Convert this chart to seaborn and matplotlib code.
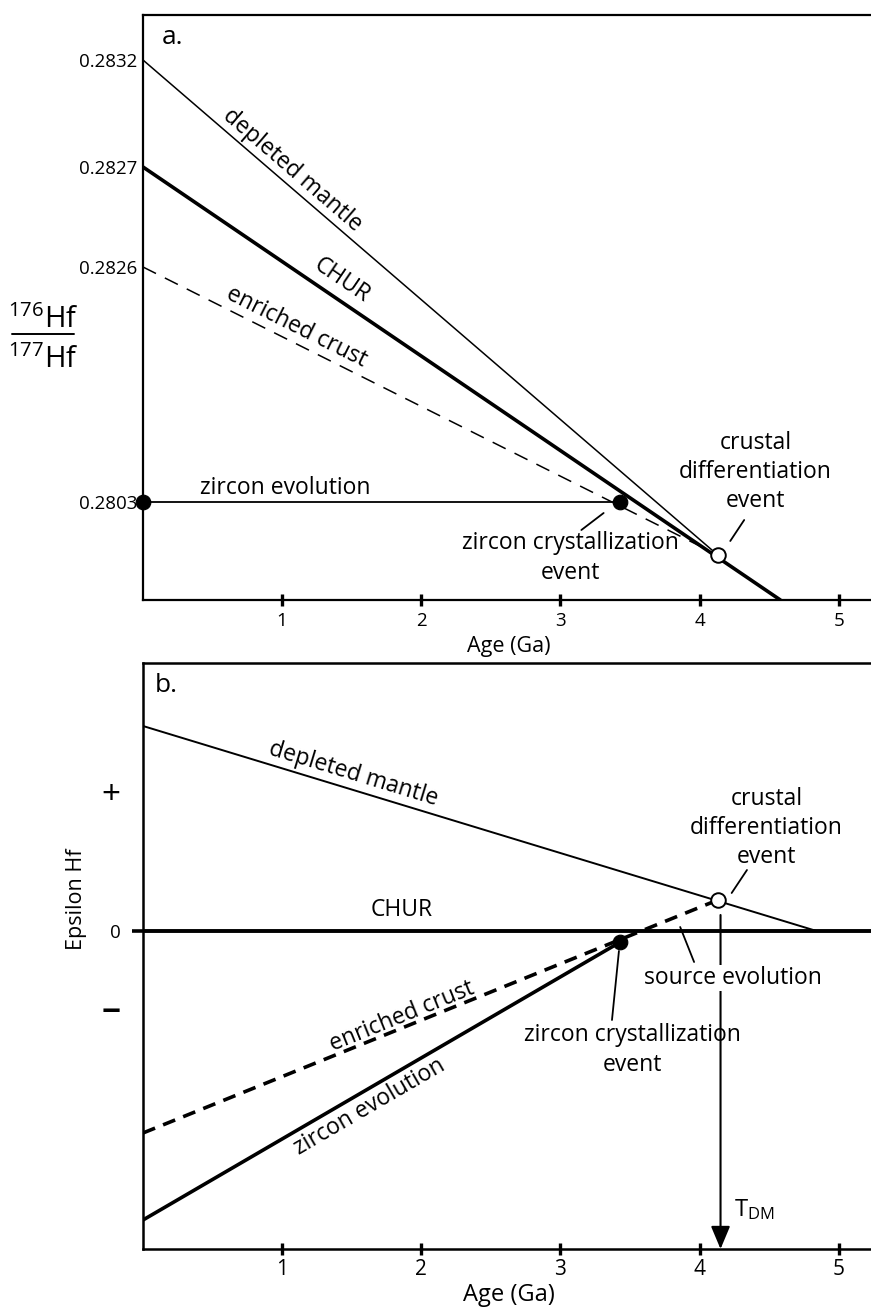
import math
import numpy as np
import pandas as pd
import seaborn as sns
import matplotlib.pyplot as plt
from matplotlib.lines import Line2D

sns.set_style("ticks")
plt.rcParams["font.family"] = ["Open Sans", "DejaVu Sans"]
plt.rcParams["mathtext.default"] = "regular"
for k in ["text.color", "axes.labelcolor", "xtick.color", "ytick.color", "axes.edgecolor"]:
    plt.rcParams[k] = "black"
NARROW = ["Liberation Sans Narrow", "Open Sans", "DejaVu Sans"]

# ---------------- data (schematic units) ----------------
age_ticks = [1, 2, 3, 4, 5]

# panel a : 176Hf/177Hf vs age (schematic vertical positions)
a_ytick_pos = [5.40, 4.33, 3.33, 0.98]
a_ytick_labels = ["0.2832", "0.2827", "0.2826", "0.2803"]
a_dm_age, a_dm_val = [0.0, 4.13], [5.40, 0.45]
a_chur_age, a_chur_val = [0.0, 4.58], [4.33, 0.0]
a_enr_age, a_enr_val = [0.0, 4.13], [3.33, 0.45]
a_zrc_age, a_zrc_val = [0.0, 3.43], [0.98, 0.98]
a_dots_age, a_dots_val = [0.0, 3.43], [0.98, 0.98]
a_open_age, a_open_val = [4.13], [0.45]

# panel b : epsilon Hf vs age
b_ytick_pos = [1.39, 0.0, -0.79]
b_ytick_labels = ["+", "0", "\u2212"]
b_dm_age, b_dm_val = [0.0, 4.84], [2.05, 0.0]
b_chur_age, b_chur_val = [0.0, 5.30], [0.0, 0.0]
b_enr_age, b_enr_val = [0.0, 4.13], [-2.02, 0.31]
b_zrc_age, b_zrc_val = [0.0, 3.43], [-2.89, -0.11]
b_dot_age, b_dot_val = [3.43], [-0.11]
b_open_age, b_open_val = [4.13], [0.31]
t_dm = 4.15

XMAX = 5.26
A_YLIM = (0.0, 5.85)
B_YLIM = (-3.18, 2.68)
FS = 16.5

W, H = 871, 1307
fig = plt.figure(figsize=(W / 100, H / 100), dpi=100)
axA = fig.add_axes([143 / W, (H - 600) / H, (875 - 143) / W, 585 / H])
axB = fig.add_axes([143 / W, (H - 1249) / H, (875 - 143) / W, 586 / H])


def line(ax, x, y, lw, ls="-"):
    sns.lineplot(x=x, y=y, ax=ax, color="black", lw=lw, linestyle=ls,
                 estimator=None, sort=False, legend=False)


def angle(x, y):
    return math.degrees(math.atan2(y[1] - y[0], x[1] - x[0]))


def along(ax, x, y, s, tx, ty, size=FS):
    ax.text(tx, ty, s, rotation=angle(x, y), transform_rotates_text=True,
            rotation_mode="anchor", ha="center", va="center", fontsize=size)


def leader(ax, p0, p1):
    ax.annotate("", xy=p1, xytext=p0,
                arrowprops=dict(arrowstyle="-", color="black", lw=1.3,
                                shrinkA=0, shrinkB=0))


# ---------------- panel a ----------------
ax = axA
line(ax, a_dm_age, a_dm_val, 1.1)
line(ax, a_chur_age, a_chur_val, 2.6)
line(ax, a_enr_age, a_enr_val, 1.1, (0, (9.5, 6.5)))
line(ax, a_zrc_age, a_zrc_val, 1.3)
sns.scatterplot(x=a_dots_age, y=a_dots_val, ax=ax, color="black", s=110,
                edgecolor="black", zorder=5, clip_on=False, legend=False)
sns.scatterplot(x=a_open_age, y=a_open_val, ax=ax, color="white", s=110,
                edgecolor="black", linewidth=1.4, zorder=5, legend=False)

along(ax, a_dm_age, a_dm_val, "depleted mantle", 1.075, 4.30)
along(ax, a_chur_age, a_chur_val, "CHUR", 1.43, 3.20)
along(ax, a_enr_age, a_enr_val, "enriched crust", 1.10, 2.73)
ax.text(1.02, 1.12, "zircon evolution", ha="center", va="center", fontsize=FS)
ax.text(3.07, 0.42, "zircon crystallization\nevent", ha="center", va="center",
        fontsize=FS, linespacing=1.3)
ax.text(4.40, 1.28, "crustal\ndifferentiation\nevent", ha="center", va="center",
        fontsize=FS, linespacing=1.3)
leader(ax, (3.15, 0.70), (3.31, 0.87))
leader(ax, (4.22, 0.59), (4.32, 0.80))
ax.text(0.026, 0.962, "a.", transform=ax.transAxes, fontsize=19,
        ha="left", va="center")

ax.set_xlim(0, XMAX)
ax.set_ylim(*A_YLIM)
ax.set_yticks(a_ytick_pos)
ax.set_yticklabels(a_ytick_labels, fontsize=13.5)
ax.tick_params(axis="y", length=0, pad=4)
ax.set_xticks(age_ticks)
ax.set_xticklabels([str(t) for t in age_ticks], fontsize=13.5)
ax.tick_params(axis="x", direction="inout", length=8, width=2.4, pad=5)
ax.set_xlabel("Age (Ga)", fontsize=15.5)
ax.xaxis.set_label_coords(0.5, -0.062)
ax.xaxis.label.set_va("top")
for s in ["left", "top", "bottom"]:
    ax.spines[s].set_linewidth(1.6)
ax.spines["right"].set_visible(False)

# fraction label 176Hf / 177Hf
fig.text(43 / W, (H - 328) / H, r"$^{176}$Hf", fontsize=21, ha="center", va="baseline")
fig.text(43 / W, (H - 368) / H, r"$^{177}$Hf", fontsize=21, ha="center", va="baseline")
fig.add_artist(Line2D([12 / W, 74 / W], [(H - 334) / H] * 2,
                      transform=fig.transFigure, color="black", lw=1.4))

# ---------------- panel b ----------------
ax = axB
line(ax, b_dm_age, b_dm_val, 1.4)
line(ax, b_chur_age, b_chur_val, 2.8)
line(ax, b_enr_age, b_enr_val, 2.6, (0, (3.6, 2.4)))
line(ax, b_zrc_age, b_zrc_val, 2.6)
sns.scatterplot(x=b_dot_age, y=b_dot_val, ax=ax, color="black", s=110,
                edgecolor="black", zorder=5, legend=False)
sns.scatterplot(x=b_open_age, y=b_open_val, ax=ax, color="white", s=110,
                edgecolor="black", linewidth=1.4, zorder=5, legend=False)

ax.annotate("", xy=(t_dm, B_YLIM[0]), xytext=(t_dm, 0.16), zorder=2,
            arrowprops=dict(arrowstyle="-|>,head_length=1.0,head_width=0.42",
                            color="black", lw=1.5, shrinkA=0, shrinkB=0,
                            mutation_scale=14))
ax.text(4.25, -2.79, r"T$_{DM}$", fontsize=17, ha="left", va="center",
        family=NARROW)

along(ax, b_dm_age, b_dm_val, "depleted mantle", 1.51, 1.57)
ax.text(1.86, 0.21, "CHUR", ha="center", va="center", fontsize=FS)
along(ax, b_enr_age, b_enr_val, "enriched crust", 1.86, -0.86)
along(ax, b_zrc_age, b_zrc_val, "zircon evolution", 1.63, -1.76)
ax.text(4.48, 1.03, "crustal\ndifferentiation\nevent", ha="center", va="center",
        fontsize=FS, linespacing=1.3)
ax.text(4.24, -0.47, "source evolution", ha="center", va="center", fontsize=FS,
        zorder=6, bbox=dict(facecolor="white", edgecolor="none", pad=1))
ax.text(3.52, -1.19, "zircon crystallization\nevent", ha="center", va="center",
        fontsize=FS, linespacing=1.3)
leader(ax, (3.42, -0.20), (3.37, -0.89))
leader(ax, (3.96, -0.31), (3.86, 0.04))
leader(ax, (4.23, 0.38), (4.34, 0.61))
ax.text(0.016, 0.962, "b.", transform=ax.transAxes, fontsize=19,
        ha="left", va="center")

ax.set_xlim(0, XMAX)
ax.set_ylim(*B_YLIM)
ax.set_yticks(b_ytick_pos)
ax.set_yticklabels(b_ytick_labels)
ax.tick_params(axis="y", length=8, width=2.6, pad=8)
for t, lab in zip(ax.yaxis.get_major_ticks(), b_ytick_labels):
    if lab == "0":
        t.label1.set_fontsize(13.5)
    else:
        t.tick1line.set_visible(False)
        t.label1.set_fontsize(24)
        if lab == "\u2212":
            t.label1.set_fontweight("bold")
ax.set_xticks(age_ticks)
ax.set_xticklabels([str(t) for t in age_ticks], fontsize=15, family=NARROW)
ax.tick_params(axis="x", direction="inout", length=8, width=2.4, pad=3)
ax.set_xlabel("Age (Ga)", fontsize=17, family=NARROW)
ax.xaxis.set_label_coords(0.5, -0.058)
ax.xaxis.label.set_va("top")
ax.set_ylabel("Epsilon Hf", fontsize=15.5)
ax.yaxis.set_label_coords(-0.076, 0.596)
for s in ["left", "top", "bottom"]:
    ax.spines[s].set_linewidth(1.8)
ax.spines["right"].set_visible(False)

fig.savefig("out.png", dpi=100)
